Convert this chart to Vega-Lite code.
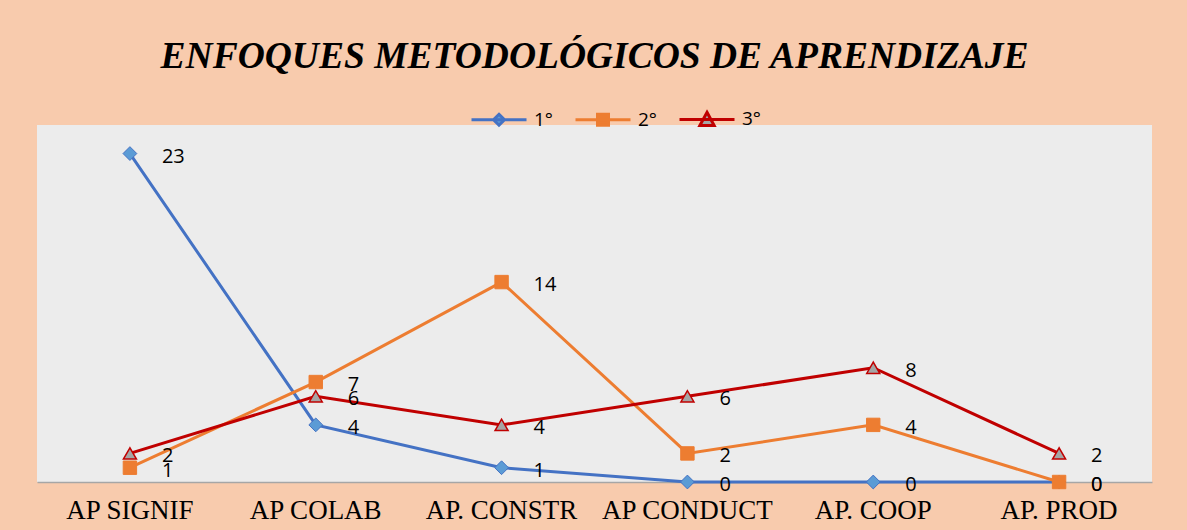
{
  "$schema": "https://vega.github.io/schema/vega-lite/v6.json",
  "width": 1115,
  "height": 357,
  "autosize": {"type": "none"},
  "padding": {"left": 37, "top": 125, "right": 35, "bottom": 48},
  "background": "#F8CBAD",
  "title": {
    "text": "ENFOQUES METODOLÓGICOS DE APRENDIZAJE",
    "font": "Liberation Serif",
    "fontStyle": "italic",
    "fontWeight": "bold",
    "fontSize": 37.5,
    "color": "#000000",
    "anchor": "middle",
    "offset": 15
  },
  "config": {
    "view": {"fill": "#ECECEC", "stroke": null}
  },
  "data": {
    "values": [
      {"cat": "AP SIGNIF", "serie": "1°", "v": 23},
      {"cat": "AP COLAB", "serie": "1°", "v": 4},
      {"cat": "AP. CONSTR", "serie": "1°", "v": 1},
      {"cat": "AP CONDUCT", "serie": "1°", "v": 0},
      {"cat": "AP. COOP", "serie": "1°", "v": 0},
      {"cat": "AP. PROD", "serie": "1°", "v": 0},
      {"cat": "AP SIGNIF", "serie": "2°", "v": 1},
      {"cat": "AP COLAB", "serie": "2°", "v": 7},
      {"cat": "AP. CONSTR", "serie": "2°", "v": 14},
      {"cat": "AP CONDUCT", "serie": "2°", "v": 2},
      {"cat": "AP. COOP", "serie": "2°", "v": 4},
      {"cat": "AP. PROD", "serie": "2°", "v": 0},
      {"cat": "AP SIGNIF", "serie": "3°", "v": 2},
      {"cat": "AP COLAB", "serie": "3°", "v": 6},
      {"cat": "AP. CONSTR", "serie": "3°", "v": 4},
      {"cat": "AP CONDUCT", "serie": "3°", "v": 6},
      {"cat": "AP. COOP", "serie": "3°", "v": 8},
      {"cat": "AP. PROD", "serie": "3°", "v": 2}
    ]
  },
  "encoding": {
    "x": {
      "field": "cat",
      "type": "nominal",
      "sort": null,
      "scale": {"type": "band", "paddingInner": 0, "paddingOuter": 0},
      "axis": {
        "title": null,
        "labelAngle": 0,
        "labelFont": "Liberation Serif",
        "labelFontSize": 27,
        "labelColor": "#000000",
        "labelPadding": 15,
        "ticks": false,
        "domainColor": "#A6A6A6",
        "domainWidth": 1.5,
        "grid": false
      }
    },
    "y": {
      "field": "v",
      "type": "quantitative",
      "scale": {"domain": [0, 25], "nice": false},
      "axis": null
    }
  },
  "layer": [
    {
      "mark": {"type": "line", "strokeWidth": 3, "clip": false},
      "encoding": {
        "color": {
          "field": "serie",
          "type": "nominal",
          "scale": {"domain": ["1°", "2°", "3°"], "range": ["#4472C4", "#ED7D31", "#C00000"]},
          "legend": {
            "title": null,
            "orient": "none",
            "direction": "horizontal",
            "legendX": 433,
            "legendY": -35,
            "symbolSize": 3025,
            "symbolStrokeWidth": 3,
            "labelFont": "Open Sans",
            "labelFontSize": 19,
            "labelColor": "#000000",
            "labelOffset": 6,
            "columnPadding": 16,
            "encode": {
              "symbols": {
                "update": {
                  "shape": {"signal": "datum.value === '1°' ? 'M-1,0H1M0,-0.2L0.2,0L0,0.2L-0.2,0Z' : (datum.value === '2°' ? 'M-1,0H1M-0.2,-0.2H0.2V0.2H-0.2Z' : 'M-1,0H1M0,-0.26L0.26,0.22H-0.26Z')"},
                  "fill": {"signal": "datum.value === '1°' ? '#5B9BD5' : (datum.value === '2°' ? '#ED7D31' : '#A5A5A5')"},
                  "fillOpacity": {"value": 1},
                  "stroke": {"signal": "datum.value === '1°' ? '#4472C4' : (datum.value === '2°' ? '#ED7D31' : '#C00000')"}
                }
              }
            }
          }
        }
      }
    },
    {
      "transform": [{"filter": "datum.serie === '1°'"}],
      "mark": {"type": "point", "shape": "diamond", "filled": true, "opacity": 1, "size": 190, "fill": "#5B9BD5", "stroke": "#4472C4", "strokeWidth": 1, "clip": false}
    },
    {
      "transform": [{"filter": "datum.serie === '2°'"}],
      "mark": {"type": "point", "shape": "square", "filled": true, "opacity": 1, "size": 180, "fill": "#ED7D31", "stroke": "#ED7D31", "strokeWidth": 1, "clip": false}
    },
    {
      "transform": [{"filter": "datum.serie === '3°'"}],
      "mark": {"type": "point", "shape": "triangle-up", "filled": true, "opacity": 1, "size": 170, "fill": "#A5A5A5", "stroke": "#C00000", "strokeWidth": 1.5, "clip": false}
    },
    {
      "mark": {"type": "text", "align": "left", "baseline": "middle", "dx": 32, "dy": 3, "font": "Open Sans", "fontSize": 20, "color": "#000000", "clip": false},
      "encoding": {
        "text": {"field": "v", "type": "quantitative"}
      }
    }
  ]
}
